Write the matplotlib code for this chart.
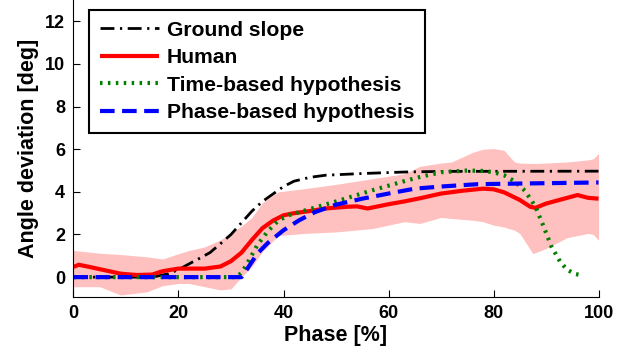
import numpy as np
import matplotlib.pyplot as plt

plt.rcParams['font.family'] = ['Liberation Sans', 'DejaVu Sans']
plt.rcParams['font.weight'] = 'bold'

# Ground slope
slope_x = [0, 15, 18, 20, 22, 24, 26, 28, 30, 32, 34, 36, 38, 40, 42, 45, 48, 55, 63, 70, 100]
slope_y = [0, 0, 0.15, 0.35, 0.62, 0.88, 1.15, 1.57, 2.0, 2.55, 3.1, 3.55, 3.9, 4.25, 4.5, 4.68, 4.78, 4.86, 4.93, 4.96, 4.97]

# Human mean
human_x = [0, 1, 3, 6, 9, 12, 15, 17, 20, 25, 28, 30, 32, 34, 36, 38, 40, 42, 45, 48, 52, 54, 56, 60,
           63, 66, 70, 74, 78, 80, 82, 85, 87, 88, 90, 93, 96, 98, 100]
human_y = [0.48, 0.58, 0.48, 0.32, 0.16, 0.1, 0.12, 0.28, 0.4, 0.4, 0.5, 0.75, 1.15, 1.75, 2.3, 2.65, 2.9, 3.0,
           3.1, 3.22, 3.3, 3.32, 3.22, 3.42, 3.55, 3.7, 3.92, 4.05, 4.15, 4.12, 3.98, 3.62, 3.3, 3.25, 3.45,
           3.65, 3.85, 3.72, 3.68]

# Human spread (upper / lower edge of the shaded band)
band_x = [0, 5, 9, 14, 17, 20, 22, 25, 28, 30, 32, 34, 36, 39, 44, 50, 57, 63, 66, 70, 72, 76, 78, 80,
          82, 84, 85, 87.5, 90, 94, 98, 99, 100]
band_hi = [1.25, 1.12, 1.06, 0.95, 0.85, 1.1, 1.25, 1.42, 1.75, 2.05, 2.4, 2.8, 3.5, 4.0, 4.15, 4.35, 4.62,
           4.85, 5.2, 5.35, 5.4, 5.85, 6.0, 6.03, 5.95, 5.4, 5.35, 5.33, 5.35, 5.4, 5.5, 5.55, 5.8]
band_lo = [-0.45, -0.45, -0.84, -0.69, -0.4, -0.3, -0.3, -0.45, -0.6, -0.55, 0.0, 0.5, 1.2, 1.95, 2.05,
           2.12, 2.28, 2.6, 2.52, 2.8, 2.75, 2.67, 2.6, 2.44, 2.35, 2.2, 2.05, 1.1, 1.34, 1.85, 2.05, 2.0, 1.73]

# Time-based hypothesis
time_x = [0, 31, 32, 33, 35, 37, 39, 41, 44, 50, 57, 63, 66, 70, 75, 78, 80, 82, 84, 86, 88, 89.5, 91,
          92.7, 94, 95.5, 97]
time_y = [0, 0, 0.2, 0.6, 1.5, 2.15, 2.65, 2.9, 3.12, 3.55, 4.08, 4.5, 4.7, 4.92, 5.0, 4.98, 4.92, 4.78,
          4.5, 4.05, 3.3, 2.4, 1.45, 0.72, 0.35, 0.15, 0.08]

# Phase-based hypothesis
phase_x = [0, 32, 33, 35, 37, 40, 43, 46, 50, 55, 60, 65, 70, 77, 85, 100]
phase_y = [0, 0, 0.35, 1.1, 1.6, 2.2, 2.67, 3.05, 3.4, 3.68, 3.92, 4.15, 4.25, 4.36, 4.39, 4.44]

fig = plt.figure(figsize=(6.26, 3.52), dpi=100)
ax = fig.add_axes([0.1174, 0.157, 0.8387, 0.843])

ax.fill_between(band_x, band_lo, band_hi, color='#ffc0c0', lw=0)
ax.plot(slope_x, slope_y, color='black', lw=2, dashes=(5, 2, 0.8, 2), label='Ground slope')
ax.plot(human_x, human_y, color='red', lw=3, solid_capstyle='butt', label='Human')
ax.plot(time_x, time_y, color='green', lw=3, dashes=(0.6, 1.3), dash_capstyle='butt',
        label='Time-based hypothesis')
ax.plot(phase_x, phase_y, color='blue', lw=3, dashes=(3.5, 1.8), dash_capstyle='butt',
        label='Phase-based hypothesis')

ax.set_xlim(0, 100)
ax.set_ylim(-0.92, 13)
ax.set_xticks(np.arange(0, 101, 20))
ax.set_yticks(np.arange(0, 13, 2))
ax.spines['top'].set_visible(False)
ax.spines['right'].set_visible(False)
ax.tick_params(direction='in', length=5, labelsize=13, pad=6)
for t in ax.get_xticklabels() + ax.get_yticklabels():
    t.set_fontweight('bold')

ax.set_xlabel('Phase [%]', fontsize=15.5, fontweight='bold', labelpad=2)
ax.set_ylabel('Angle deviation [deg]', fontsize=15.5, fontweight='bold', labelpad=4)

leg = ax.legend(loc='upper left', bbox_to_anchor=(0.0295, 0.966), borderaxespad=0,
                prop={'size': 15.2, 'weight': 'bold'}, fancybox=False, framealpha=1,
                handlelength=2.8, handletextpad=0.4, labelspacing=0.4, borderpad=0.5)
leg.get_frame().set_edgecolor('black')
leg.get_frame().set_linewidth(1.5)

fig.savefig('out.png', dpi=100)
